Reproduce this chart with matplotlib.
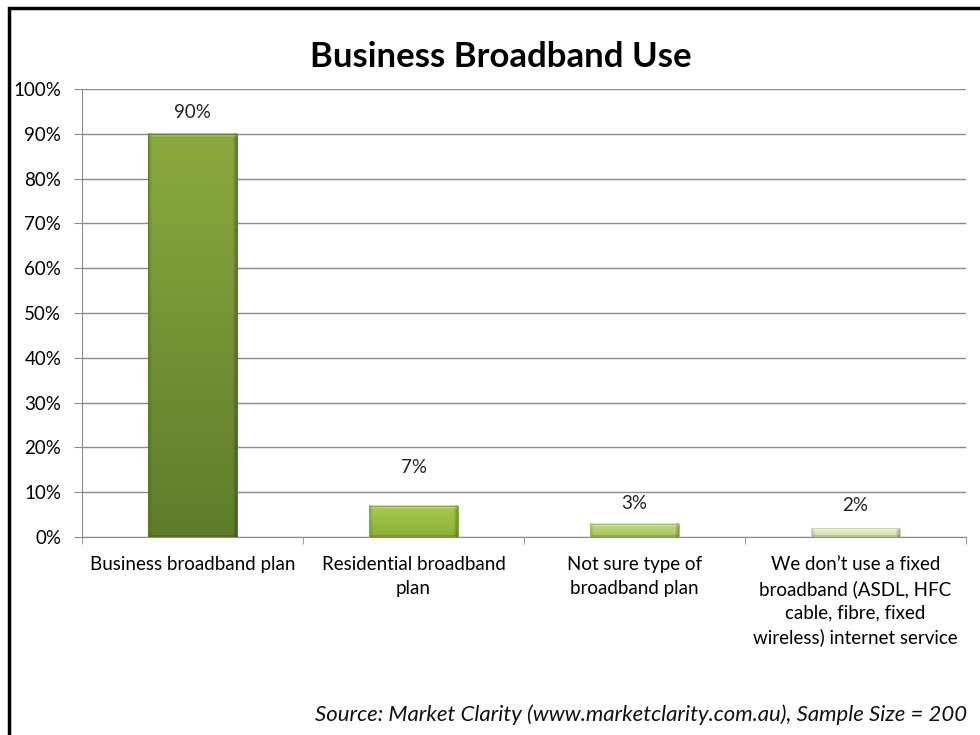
import numpy as np
import matplotlib.pyplot as plt
from matplotlib.colors import to_rgb
from matplotlib.patches import Rectangle

plt.rcParams['font.family'] = ['Lato', 'DejaVu Sans']

categories = [
    "Business broadband plan",
    "Residential broadband\nplan",
    "Not sure type of\nbroadband plan",
    "We don\u2019t use a fixed\nbroadband (ASDL, HFC\ncable, fibre, fixed\nwireless) internet service",
]
values = [90, 7, 3, 2]
value_labels = ["90%", "7%", "3%", "2%"]
# top / bottom colours of each bar's gradient
bar_tops = ["#8aaa3f", "#a8cc4c", "#c4da86", "#e6eed0"]
bar_bottoms = ["#5e7d2b", "#88af37", "#a4c25c", "#cfdcaa"]
label_gap = [9, 21, 8, 10]

fig = plt.figure(figsize=(9.8, 7.35), dpi=100)
ax = fig.add_axes([0.0837, 0.2694, 0.902, 0.6095])
ax.set_xlim(-0.5, len(values) - 0.5)
ax.set_ylim(0, 100)

x = np.arange(len(values))
width = 0.4
bars = ax.bar(x, values, width=width, color="none", edgecolor="none", zorder=3)


def bevel_image(top, bot, w_px, h_px, edge=4):
    # vertical gradient with a light top bevel and darker side/bottom edges
    t = np.linspace(1, 0, h_px)[:, None, None]
    img = t * np.array(to_rgb(top)) + (1 - t) * np.array(to_rgb(bot))
    img = np.repeat(img, w_px, axis=1)
    e = min(edge, max(h_px // 3, 1))
    for i in range(e):
        f = 0.45 * (1 - i / e)
        img[i, :, :] = img[i, :, :] + (1 - img[i, :, :]) * f
    for j in range(edge):
        f = 0.25 * (1 - j / edge)
        img[:, -1 - j, :] *= (1 - f)
        img[:, j, :] *= (1 - 0.6 * f)
    for i in range(min(2, h_px)):
        img[-1 - i, :, :] *= 0.88
    return np.clip(img, 0, 1)


for b, top, bot in zip(bars, bar_tops, bar_bottoms):
    x0, y0 = b.get_x(), b.get_y()
    w, h = b.get_width(), b.get_height()
    (px0, py0), (px1, py1) = ax.transData.transform([(x0, y0), (x0 + w, y0 + h)])
    w_px = max(int(round(px1 - px0)), 1)
    h_px = max(int(round(py1 - py0)), 1)
    ax.imshow(bevel_image(top, bot, w_px, h_px), aspect="auto",
              interpolation="nearest", extent=[x0, x0 + w, y0, y0 + h], zorder=3)
    ax.add_patch(Rectangle((x0, y0), w, h, fill=False,
                           edgecolor=bot, linewidth=0.8, zorder=4))

for b, lab, gap in zip(bars, value_labels, label_gap):
    ax.annotate(lab, (b.get_x() + b.get_width() / 2, b.get_height()),
                xytext=(0, gap), textcoords="offset points",
                ha="center", va="bottom", fontsize=13.5, color="#222222")

ax.set_xlim(-0.5, len(values) - 0.5)
ax.set_ylim(0, 100)
ax.set_yticks(range(0, 101, 10))
ax.set_yticklabels([f"{v}%" for v in range(0, 101, 10)], fontsize=13.5)
ax.yaxis.grid(True, color="#8c8c8c", linewidth=1.0, zorder=0)
ax.set_axisbelow(True)

ax.set_xticks(x)
ax.set_xticklabels(categories, fontsize=13.5, linespacing=1.45, va="top")
ax.tick_params(axis="x", length=0, pad=14)
ax.set_xticks(np.arange(-0.5, len(values), 1.0), minor=True)
ax.tick_params(axis="x", which="minor", length=5, color="#8c8c8c", direction="out")
ax.tick_params(axis="y", length=6, color="#8c8c8c", pad=9)

for side in ["top", "right"]:
    ax.spines[side].set_visible(False)
for side in ["left", "bottom"]:
    ax.spines[side].set_color("#8c8c8c")

fig.text(0.511, 0.922, "Business Broadband Use", ha="center", va="center",
         fontsize=25, fontweight="bold")
fig.text(0.987, 0.028, "Source: Market Clarity (www.marketclarity.com.au), Sample Size = 200",
         ha="right", va="center", fontsize=15.9, style="italic", color="#111111")

# frame along the left and top edges
fig.add_artist(Rectangle((9 / 980, -0.1), 1.2, 1.1 - 8 / 735,
                         transform=fig.transFigure, fill=False,
                         edgecolor="black", linewidth=2.5))

fig.savefig("out.png", dpi=100)
